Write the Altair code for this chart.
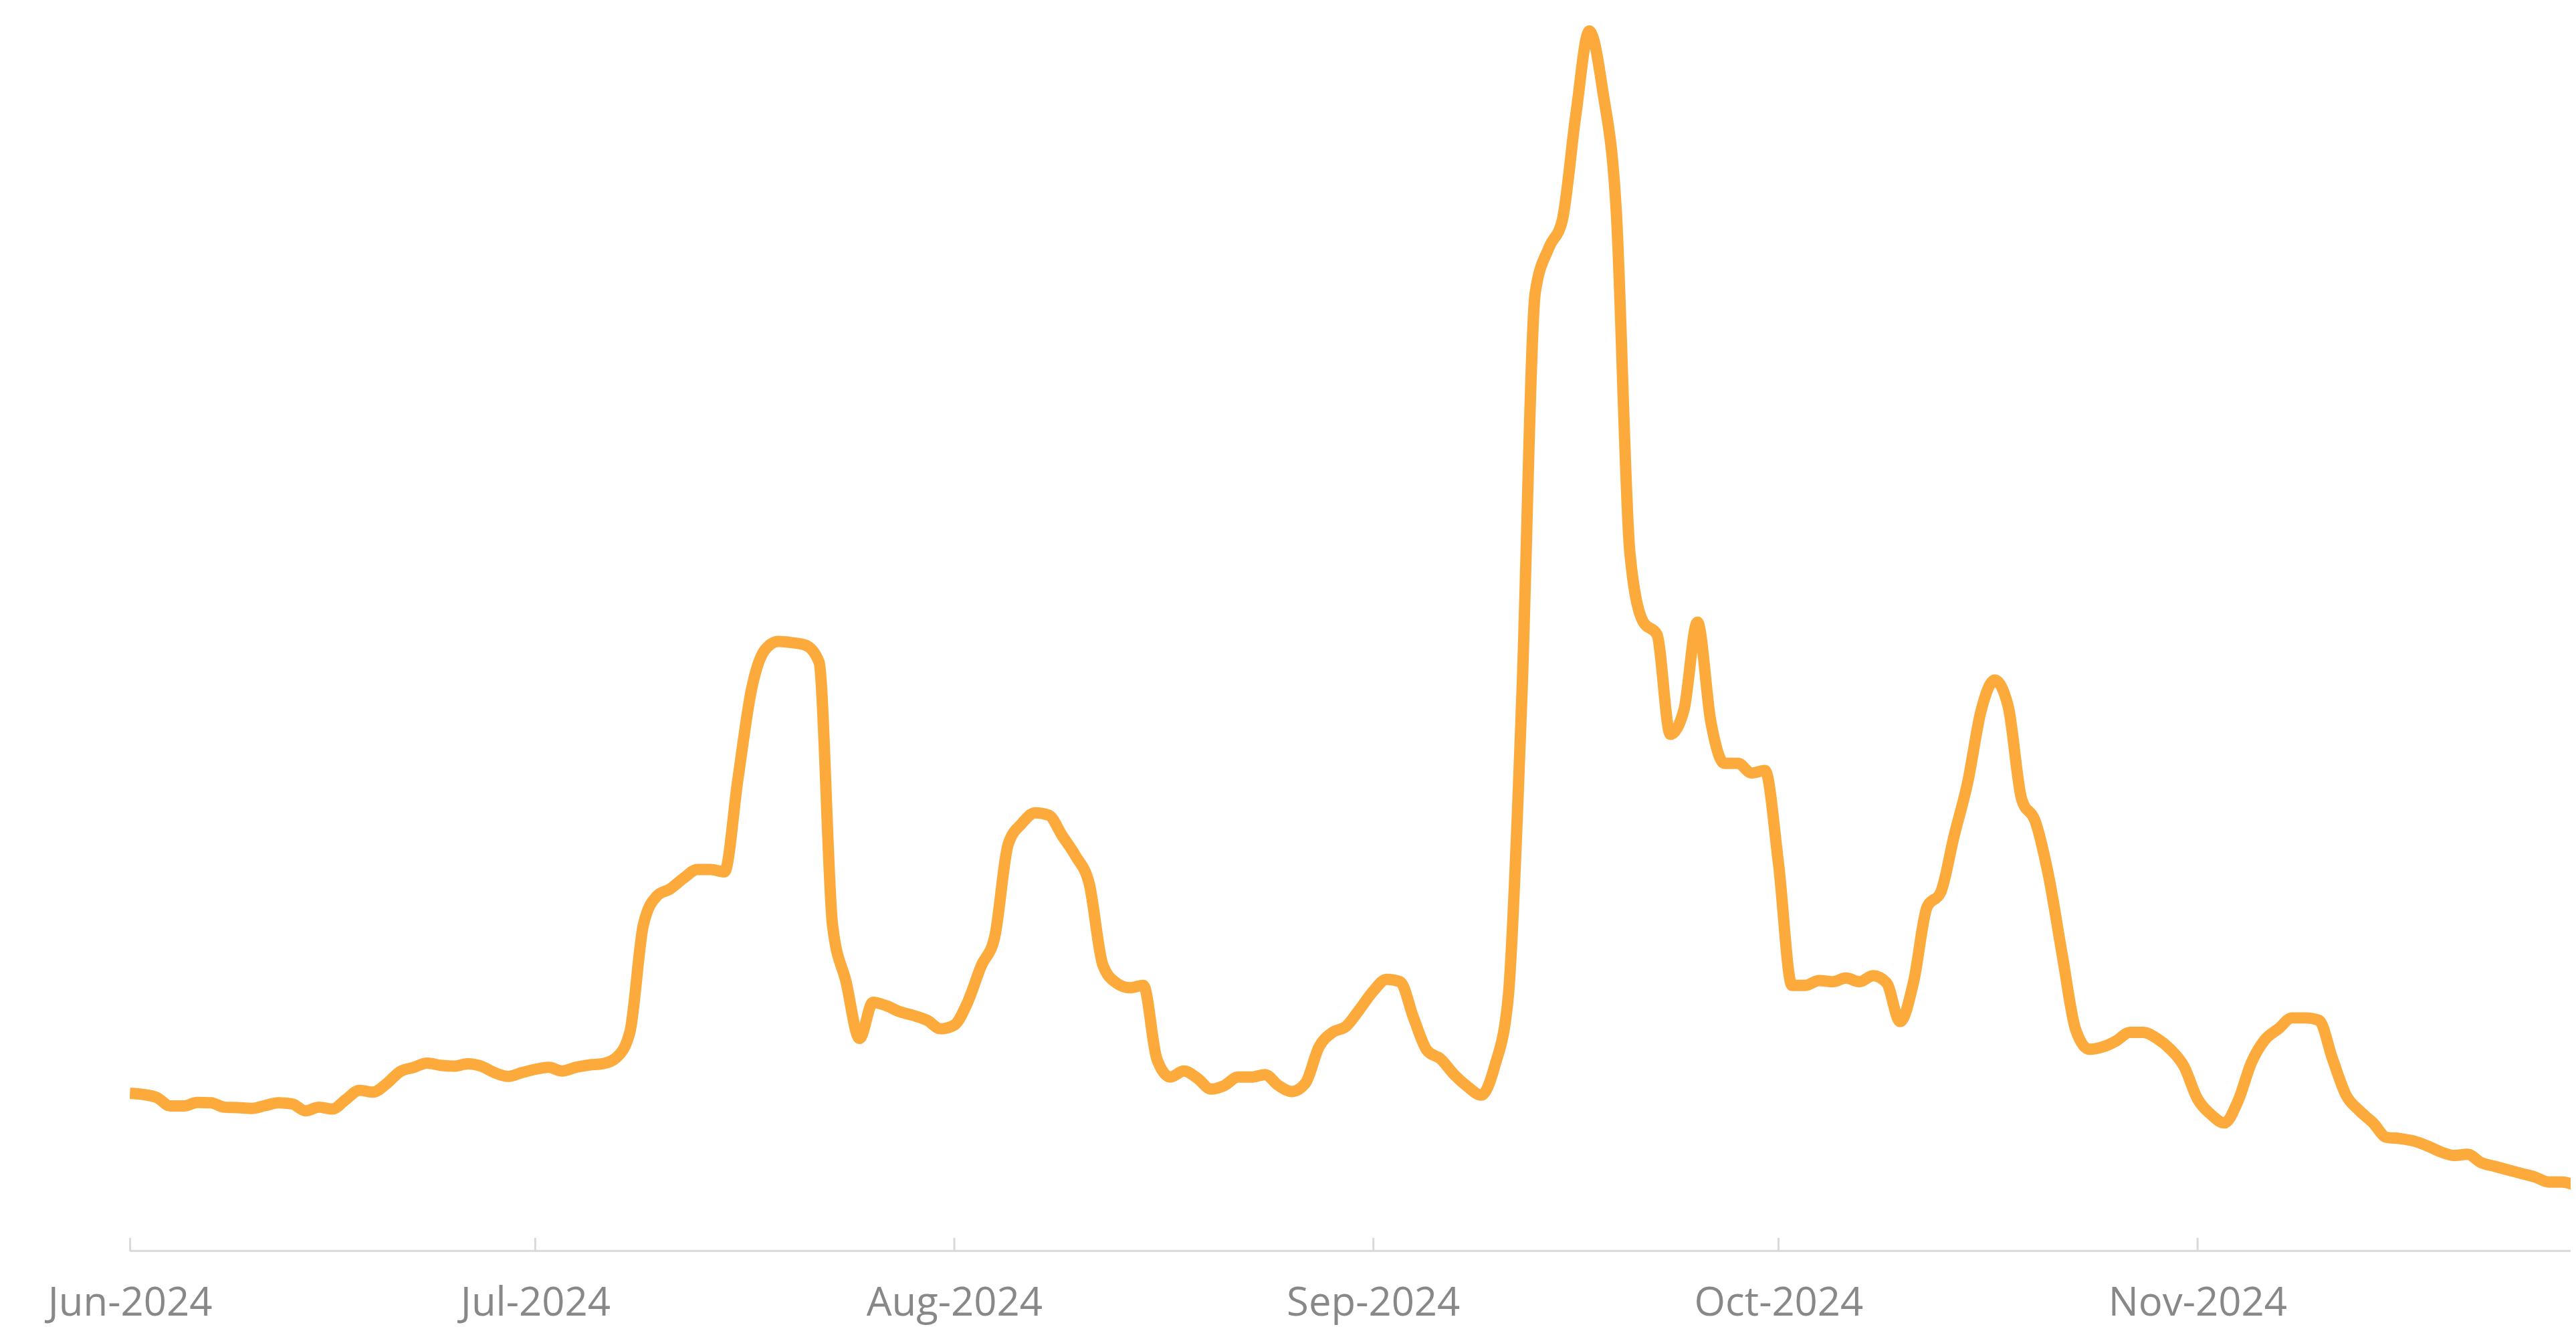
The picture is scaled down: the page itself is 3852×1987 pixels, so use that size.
import altair as alt
import pandas as pd

# daily values, 2024-06-01 .. 2024-11-29 (relative index, peak = 100)
start_date = "2024-06-01"
values = [
    11.96, 11.85, 11.6, 10.9, 10.9, 11.2, 11.17, 10.8, 10.77, 10.7,
    10.93, 11.17, 11.08, 10.5, 10.8, 10.65, 11.45, 12.2, 12.05, 12.75,
    13.75, 14.1, 14.45, 14.27, 14.2, 14.4, 14.2, 13.66, 13.35, 13.66,
    13.94, 14.1, 13.8, 14.1, 14.3, 14.4, 14.9, 17.0, 25.9, 28.3,
    28.9, 29.8, 30.5, 30.5, 30.3, 38.0, 45.4, 48.7, 49.4, 49.3,
    49.1, 47.7, 25.9, 21.2, 16.5, 19.5, 19.2, 18.7, 18.4, 18.0,
    17.3, 17.6, 19.5, 22.5, 24.9, 32.6, 34.3, 35.2, 35.0, 33.3,
    31.6, 29.3, 22.6, 21.1, 20.7, 20.9, 14.8, 13.3, 13.8, 13.2,
    12.3, 12.6, 13.3, 13.3, 13.5, 12.6, 12.1, 12.8, 15.8, 17.0,
    17.5, 18.9, 20.4, 21.4, 21.2, 18.2, 15.5, 14.8, 13.5, 12.5,
    11.8, 14.2, 19.9, 44.5, 78.3, 82.0, 84.3, 93.0, 100.0, 95.0,
    85.0, 56.8, 51.0, 50.0, 41.7, 43.7, 51.0, 42.7, 39.3, 39.3,
    38.5, 38.7, 31.0, 20.9, 20.9, 21.3, 21.2, 21.5, 21.2, 21.7,
    21.1, 17.9, 21.2, 27.4, 28.6, 33.3, 37.7, 43.7, 46.2, 44.0,
    36.3, 34.5, 29.9, 23.4, 17.2, 15.6, 15.8, 16.3, 17.0, 17.0,
    16.5, 15.6, 14.2, 11.5, 10.2, 9.5, 11.3, 14.5, 16.4, 17.3,
    18.2, 18.2, 18.0, 14.8, 11.8, 10.5, 9.5, 8.3, 8.2, 8.0,
    7.6, 7.1, 6.8, 6.9, 6.2, 5.9, 5.6, 5.3, 5.0, 4.6,
    4.6, 4.3,
]
tick_months = [6, 7, 8, 9, 10, 11]

dates = pd.date_range(start_date, periods=len(values), freq="D")
df = pd.DataFrame({"date": dates.strftime("%Y-%m-%dT00:00:00Z"), "value": values})

W = 3657.5
H = 1844

x_scale = alt.Scale(
    type="utc",
    domain=[
        alt.DateTime(year=2024, month=6, date=1, utc=True),
        alt.DateTime(year=2024, month=11, date=28, hours=14, minutes=53, utc=True),
    ],
)

line = alt.Chart(df).mark_line(
    color="#FDAA3C", strokeWidth=17, interpolate="monotone", clip=True
).encode(
    x=alt.X(
        "date:T",
        scale=x_scale,
        axis=alt.Axis(
            values=[alt.DateTime(year=2024, month=m, date=1, utc=True) for m in tick_months],
            labelExpr="utcFormat(datum.value, '%b-%Y')",
            title=None,
            grid=False,
            domain=False,
            ticks=True,
            tickSize=20,
            tickWidth=3,
            tickColor="#d9d9d9",
            labelFont="Open Sans",
            labelFontSize=60,
            labelColor="#888888",
            labelBaseline="alphabetic",
            labelPadding=97,
            labelFlush=False,
            labelOverlap=False,
            labelLimit=0,
        ),
    ),
    y=alt.Y("value:Q", scale=alt.Scale(domain=[0, 102], nice=False, zero=True), axis=None),
)

baseline = alt.Chart(pd.DataFrame({"a": [0]})).mark_rule(
    color="#d9d9d9", strokeWidth=3
).encode(
    x=alt.value(0), x2=alt.value(W), y=alt.value(H + 20)
)

chart = alt.layer(line, baseline).properties(
    width=W,
    height=H,
    background="white",
    autosize=alt.AutoSizeParams(type="none"),
    padding={"left": 186.5, "top": 0, "right": 0, "bottom": 134},
).configure_view(strokeWidth=0, stroke=None)

chart.save("out.html", embed_options={"renderer": "svg", "actions": False})
